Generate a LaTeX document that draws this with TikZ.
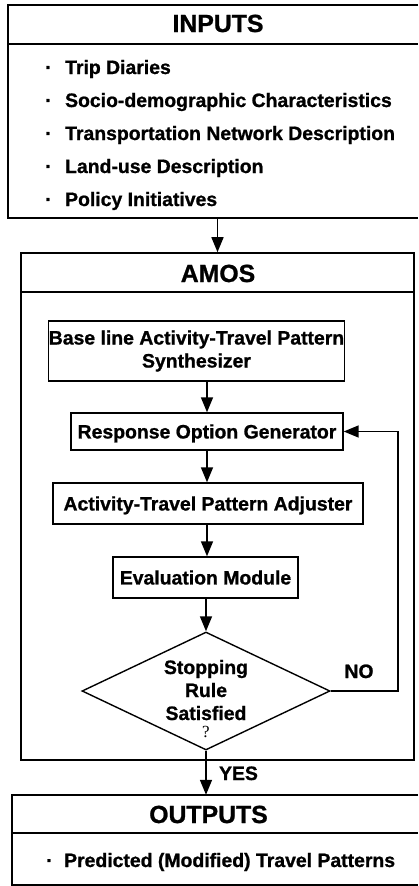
\documentclass[tikz,border=0pt]{standalone}
\usepackage{fontspec}
\setmainfont{Liberation Sans}[BoldFeatures={FakeBold=1.0}]
\newfontfamily\qmarkfont{Liberation Serif}
\usetikzlibrary{arrows.meta,shapes.geometric}
\begin{document}
\begin{tikzpicture}[x=1pt,y=-1pt,
  frame/.style={line width=1.6pt},
  sepline/.style={line width=2.6pt},
  bodyfont/.style={font=\fontsize{19.4}{23}\selectfont\bfseries},
  heading/.style={font=\fontsize{24.8}{28}\selectfont\bfseries,anchor=base,inner sep=0pt},
  item/.style={bodyfont,anchor=base west,inner sep=0pt},
  lbl/.style={bodyfont,anchor=base,inner sep=0pt},
  stepbox/.style={draw,line width=1.4pt,bodyfont,inner sep=0pt,align=center},
  capcentre/.style={text height=13.9pt,text depth=0pt},
  decision/.style={draw,line width=1.4pt,shape=diamond,inner sep=0pt},
  flow/.style={line width=1.6pt,-{Triangle[length=15pt,width=12pt]}}
]
\useasboundingbox (0,0) rectangle (418,886);

% ---------- INPUTS ----------
\node[minimum width=410pt,minimum height=213pt,inner sep=0pt] (inputs) at (213,111.5) {};
\draw[frame] (inputs.north east) -- (inputs.north west) -- (inputs.south west) -- (inputs.south east);
\draw[sepline] (8,44) -- (418,44);
\node[heading] (inputsTitle) at (218,32) {INPUTS};
\node[item] (in1) at (45,74)  {·\hspace{13.5pt}Trip Diaries};
\node[item] (in2) at (45,107) {·\hspace{13.5pt}Socio-demographic Characteristics};
\node[item] (in3) at (45,140) {·\hspace{13.5pt}Transportation Network Description};
\node[item] (in4) at (45,173) {·\hspace{13.5pt}Land-use Description};
\node[item] (in5) at (45,206) {·\hspace{13.5pt}Policy Initiatives};

% ---------- AMOS ----------
\node[draw,frame,minimum width=393pt,minimum height=507pt,inner sep=0pt] (amos) at (217.5,506.5) {};
\draw[sepline] (21,292) -- (414,292);
\node[heading] (amosTitle) at (218,282) {AMOS};

\node[stepbox,minimum width=293pt,minimum height=60pt] (base) at (196.5,351)
  {Base line Activity-Travel Pattern\\Synthesizer};
\node[stepbox,capcentre,minimum width=272pt,minimum height=37pt] (rog) at (207,431.5)
  {Response Option Generator};
\node[stepbox,capcentre,minimum width=310pt,minimum height=41pt] (atpa) at (208,503.5)
  {Activity-Travel Pattern Adjuster};
\node[stepbox,capcentre,minimum width=185pt,minimum height=41pt] (eval) at (205.5,577.5)
  {Evaluation Module};
\node[decision,minimum width=248pt,minimum height=118pt] (stop) at (206,691) {};
\node[lbl] (stopA) at (206,674) {Stopping};
\node[lbl] (stopB) at (206,697) {Rule};
\node[lbl] (stopC) at (206,720) {Satisfied};
\node[anchor=base,inner sep=0pt,font=\fontsize{17}{20}\qmarkfont\selectfont] (stopQ) at (206,737) {?};

% ---------- OUTPUTS ----------
\node[minimum width=406pt,minimum height=89.5pt,inner sep=0pt] (outputs) at (215,839.75) {};
\draw[frame] (outputs.north east) -- (outputs.north west) -- (outputs.south west) -- (outputs.south east);
\draw[sepline] (12,833) -- (418,833);
\node[heading] (outputsTitle) at (208.5,823) {OUTPUTS};
\node[item] (out1) at (46,867) {·\hspace{11.5pt}Predicted (Modified) Travel Patterns};

% ---------- connectors ----------
\draw[flow] (inputs.south -| amos.north) -- (amos.north);
\draw[flow] (base.south -| rog.north) -- (rog.north);
\draw[flow] (rog.south) -- (rog.south |- atpa.north);
\draw[flow] (rog.south |- atpa.south) -- (rog.south |- eval.north);
\draw[flow] (eval.south -| stop.north) -- (stop.north);
\draw[flow] (stop.south) -- (stop.south |- outputs.north);
\coordinate (loopCorner) at (398,691);
\draw[flow] (stop.east) -- (loopCorner) |- (rog.east);

\node[lbl] (noLabel) at (359,678) {NO};
\node[lbl] (yesLabel) at (238.5,780) {YES};
\end{tikzpicture}
\end{document}
